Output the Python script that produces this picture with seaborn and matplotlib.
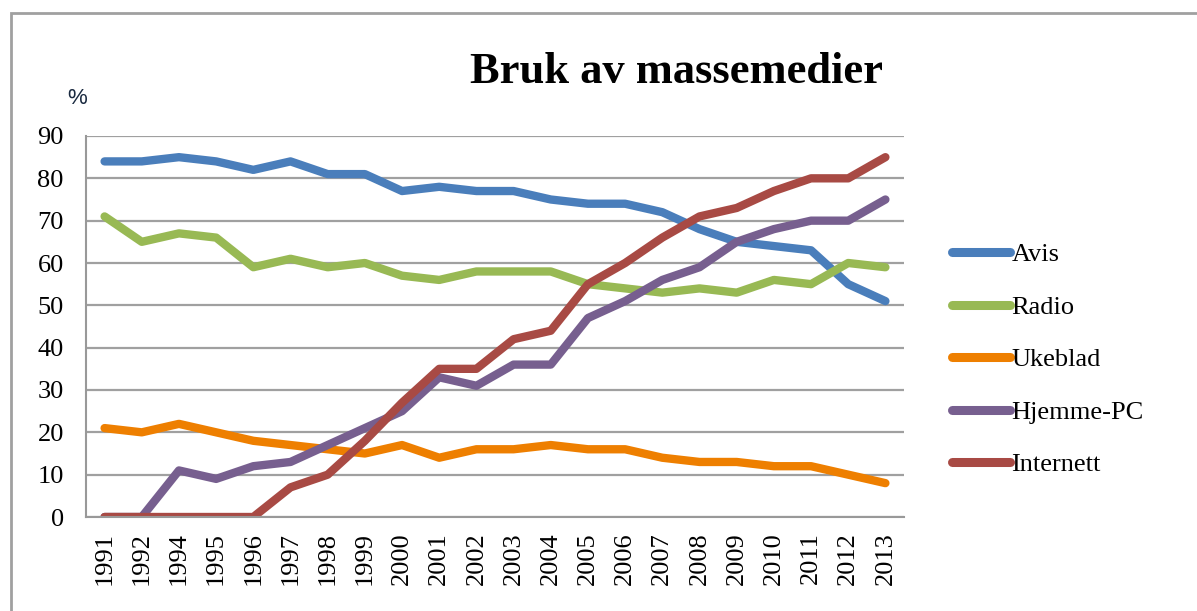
import matplotlib
matplotlib.use("Agg")
import matplotlib.pyplot as plt
import seaborn as sns
import pandas as pd
from matplotlib.patches import Rectangle

years = ["1991", "1992", "1994", "1995", "1996", "1997", "1998", "1999", "2000",
         "2001", "2002", "2003", "2004", "2005", "2006", "2007", "2008", "2009",
         "2010", "2011", "2012", "2013"]
avis = [84, 84, 85, 84, 82, 84, 81, 81, 77, 78, 77, 77, 75, 74, 74, 72, 68, 65, 64, 63, 55, 51]
radio = [71, 65, 67, 66, 59, 61, 59, 60, 57, 56, 58, 58, 58, 55, 54, 53, 54, 53, 56, 55, 60, 59]
ukeblad = [21, 20, 22, 20, 18, 17, 16, 15, 17, 14, 16, 16, 17, 16, 16, 14, 13, 13, 12, 12, 10, 8]
hjemme_pc = [0, 0, 11, 9, 12, 13, 17, 21, 25, 33, 31, 36, 36, 47, 51, 56, 59, 65, 68, 70, 70, 75]
internett = [0, 0, 0, 0, 0, 7, 10, 18, 27, 35, 35, 42, 44, 55, 60, 66, 71, 73, 77, 80, 80, 85]
series_names = ["Avis", "Radio", "Ukeblad", "Hjemme-PC", "Internett"]
colors = ["#4A7EBB", "#98B954", "#EE7F00", "#775F8F", "#A84A44"]
title = "Bruk av massemedier"

rows = []
for name, vals in zip(series_names, [avis, radio, ukeblad, hjemme_pc, internett]):
    for i, v in enumerate(vals):
        rows.append({"idx": i, "year": years[i], "value": v, "series": name})
df = pd.DataFrame(rows)

sns.set_style("white")
plt.rcParams["font.family"] = ["Liberation Serif", "DejaVu Serif"]
plt.rcParams["text.color"] = "black"
plt.rcParams["xtick.color"] = "black"
plt.rcParams["ytick.color"] = "black"
plt.rcParams["xtick.labelcolor"] = "black"
plt.rcParams["ytick.labelcolor"] = "black"

fig = plt.figure(figsize=(11.97, 6.11), dpi=100)
ax = fig.add_axes([86/1197, 1 - 517/611, (904-86)/1197, (517-136)/611])

sns.lineplot(data=df, x="idx", y="value", hue="series", hue_order=series_names,
             palette=colors, linewidth=6, ax=ax, legend=True)
for line in ax.lines:
    line.set_solid_capstyle("round")
    line.set_solid_joinstyle("round")

ax.set_xlim(-0.5, len(years) - 0.5)
ax.set_ylim(0, 90)
ax.set_yticks(range(0, 91, 10))
ax.set_xticks(range(len(years)))
ax.set_xticklabels(years, rotation=90, fontsize=19, color="black")
ax.set_xticks([i - 0.5 for i in range(len(years) + 1)], minor=True)
ax.tick_params(axis="x", which="major", length=0, pad=11)
ax.tick_params(axis="x", which="minor", length=5, width=1.5, color="#999999", direction="out")
ax.tick_params(axis="y", which="major", length=5, width=1.5, color="#999999",
               direction="out", labelsize=19, pad=11, labelcolor="black")
ax.set_xlabel("")
ax.set_ylabel("")
ax.yaxis.grid(True, color="#A0A0A0", linewidth=1.6)
ax.xaxis.grid(False)
ax.set_axisbelow(True)
for s in ["top", "right"]:
    ax.spines[s].set_visible(False)
for s in ["left", "bottom"]:
    ax.spines[s].set_color("#999999")
    ax.spines[s].set_linewidth(1.5)

handles, labels = ax.get_legend_handles_labels()
ax.legend_.remove()
for h in handles:
    h.set_linewidth(6.5)
    h.set_solid_capstyle("round")
leg = fig.legend(handles, labels, loc="upper left", bbox_to_anchor=(952/1197, 1 - 243/611),
                 frameon=False, fontsize=19, handlelength=2.2, handletextpad=0.05,
                 labelspacing=1.1, borderpad=0, borderaxespad=0)
for t in leg.get_texts():
    t.set_color("black")

fig.text(676/1197, 1 - 83/611, title, ha="center", va="baseline",
         fontsize=32, fontweight="bold", color="black")
fig.text(77/1197, 1 - 98/611, "%", ha="center", va="center", fontsize=16,
         family=["Liberation Sans", "DejaVu Sans"], color="#1A2A40")

fig.patches.append(Rectangle((11/1197, -0.1), 1.2, 1 - 13/611 + 0.1, transform=fig.transFigure,
                             fill=False, edgecolor="#A0A0A0", linewidth=2))

fig.savefig("out.png", dpi=100)
